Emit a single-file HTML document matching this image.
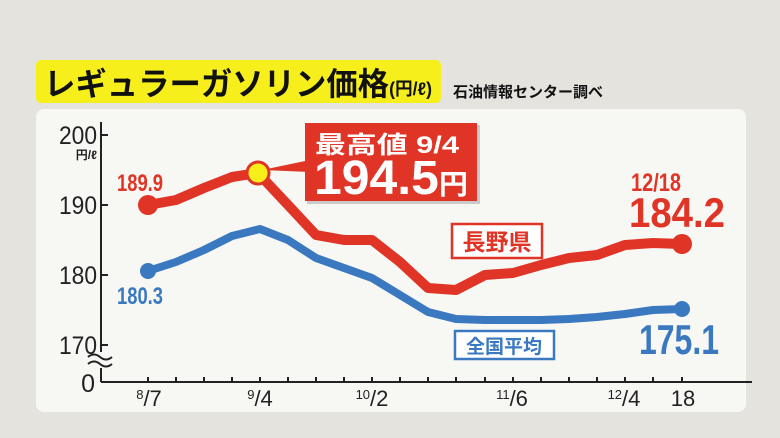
<!DOCTYPE html>
<html><head><meta charset="utf-8"><style>
body{margin:0;width:780px;height:438px;background:#e4e3de;overflow:hidden;font-family:"Liberation Sans","Noto Sans CJK JP",sans-serif}
</style></head><body>
<svg width="780" height="438" viewBox="0 0 780 438" xmlns="http://www.w3.org/2000/svg" style="position:absolute;left:0;top:0">
<rect x="36" y="60" width="405" height="43" rx="5" fill="#f6ef1c"/>
<text x="44" y="95" font-size="32" font-weight="bold" fill="#111" font-family="Liberation Sans,Noto Sans CJK JP,sans-serif" textLength="388" lengthAdjust="spacingAndGlyphs">レギュラーガソリン価格<tspan font-size="18">(円/ℓ)</tspan></text>
<text x="453" y="97" font-size="15" font-weight="bold" fill="#111" font-family="Liberation Sans,Noto Sans CJK JP,sans-serif">石油情報センター調べ</text>
<rect x="36" y="109" width="710" height="303" rx="8" fill="#f7f7f4"/>
<g font-family="Liberation Sans,Noto Sans CJK JP,sans-serif" fill="#222">
<line x1="101" y1="122" x2="101" y2="382" stroke="#222" stroke-width="2"/>
<line x1="101" y1="382" x2="752" y2="382" stroke="#222" stroke-width="2"/>
<g stroke="#222" stroke-width="2">
<line x1="101" y1="135" x2="108" y2="135"/><line x1="101" y1="205" x2="108" y2="205"/><line x1="101" y1="275" x2="108" y2="275"/><line x1="101" y1="345" x2="108" y2="345"/>
</g>
<rect x="88" y="352" width="24" height="16" fill="#f7f7f4"/>
<path d="M88 357 q6 -5 12 0 t12 0 M88 364 q6 -5 12 0 t12 0" stroke="#222" stroke-width="2" fill="none"/>
<g font-size="25" text-anchor="end"><text x="97" y="144" textLength="38" lengthAdjust="spacingAndGlyphs">200</text><text x="97" y="214" textLength="38" lengthAdjust="spacingAndGlyphs">190</text><text x="97" y="284" textLength="38" lengthAdjust="spacingAndGlyphs">180</text><text x="97" y="354" textLength="38" lengthAdjust="spacingAndGlyphs">170</text><text x="95" y="392">0</text></g>
<text x="97" y="159" font-size="12" font-weight="bold" text-anchor="end">円/ℓ</text>
<g stroke="#222" stroke-width="2">
<line x1="148" y1="377" x2="148" y2="382"/><line x1="176" y1="377" x2="176" y2="382"/><line x1="204" y1="377" x2="204" y2="382"/><line x1="232" y1="377" x2="232" y2="382"/><line x1="260" y1="377" x2="260" y2="382"/><line x1="288" y1="377" x2="288" y2="382"/><line x1="316" y1="377" x2="316" y2="382"/><line x1="344" y1="377" x2="344" y2="382"/><line x1="372" y1="377" x2="372" y2="382"/><line x1="400" y1="377" x2="400" y2="382"/><line x1="428" y1="377" x2="428" y2="382"/><line x1="456" y1="377" x2="456" y2="382"/><line x1="485" y1="377" x2="485" y2="382"/><line x1="513" y1="377" x2="513" y2="382"/><line x1="541" y1="377" x2="541" y2="382"/><line x1="569" y1="377" x2="569" y2="382"/><line x1="597" y1="377" x2="597" y2="382"/><line x1="625" y1="377" x2="625" y2="382"/><line x1="653" y1="377" x2="653" y2="382"/><line x1="682" y1="377" x2="682" y2="382"/>
</g>
<g font-size="22" text-anchor="middle">
<text x="149" y="406"><tspan font-size="13" dy="-7">8</tspan><tspan dy="7">/7</tspan></text>
<text x="260" y="406"><tspan font-size="13" dy="-7">9</tspan><tspan dy="7">/4</tspan></text>
<text x="372" y="406"><tspan font-size="13" dy="-7">10</tspan><tspan dy="7">/2</tspan></text>
<text x="512" y="406"><tspan font-size="13" dy="-7">11</tspan><tspan dy="7">/6</tspan></text>
<text x="624" y="406"><tspan font-size="13" dy="-7">12</tspan><tspan dy="7">/4</tspan></text>
<text x="683" y="406">18</text>
</g>
</g>
<polyline points="148,271 176,262 204,250 232,236 260,229 288,240 316,258 344,268 372,278 400,295 428,312 456,319 485,320 513,320 541,320 569,319 597,317 625,314 653,310 682,309" fill="none" stroke="#3a78c0" stroke-width="8" stroke-linejoin="round"/>
<circle cx="148" cy="271" r="8" fill="#3a78c0"/><circle cx="682" cy="309" r="8" fill="#3a78c0"/>
<polyline points="148,205 176,200 204,188 232,177 258,173 288,205 316,235 344,240 372,240 400,262 428,288 456,290 485,275 513,273 541,265 569,258 597,255 625,245 653,243 682,244" fill="none" stroke="#e03427" stroke-width="10" stroke-linejoin="round"/>
<circle cx="148" cy="205" r="10" fill="#e03427"/><circle cx="682" cy="244" r="10" fill="#e03427"/>
<polygon points="262,170 310,160 310,172" fill="#e03427"/>
<circle cx="258" cy="173" r="11" fill="#f8ee1a" stroke="#e03427" stroke-width="3"/>
<rect x="307" y="125" width="173" height="79" fill="#888" opacity="0.4"/>
<rect x="305" y="123" width="172" height="78" fill="#e03427"/>
<g font-family="Liberation Sans,Noto Sans CJK JP,sans-serif" font-weight="bold">
<text x="315" y="153" font-size="24" fill="#fff" textLength="144" lengthAdjust="spacingAndGlyphs">最高値 9/4</text>
<text x="314" y="194" font-size="48" fill="#fff" textLength="154" lengthAdjust="spacingAndGlyphs">194.5<tspan font-size="28">円</tspan></text>
<rect x="452" y="224" width="90" height="34" fill="#fff" stroke="#e03427" stroke-width="2.5"/>
<text x="497" y="250" font-size="23" fill="#e03427" text-anchor="middle">長野県</text>
<rect x="455" y="331" width="99" height="28" fill="#fff" stroke="#3a78c0" stroke-width="2.5"/>
<text x="504" y="353" font-size="19" fill="#3a78c0" text-anchor="middle">全国平均</text>
<text x="117" y="191" font-size="24" fill="#e03427" textLength="46" lengthAdjust="spacingAndGlyphs">189.9</text>
<text x="117" y="304" font-size="24" fill="#3a78c0" textLength="46" lengthAdjust="spacingAndGlyphs">180.3</text>
<text x="631" y="191" font-size="25" fill="#e03427" textLength="50" lengthAdjust="spacingAndGlyphs">12/18</text>
<text x="629" y="227" font-size="42" fill="#e03427" textLength="96" lengthAdjust="spacingAndGlyphs">184.2</text>
<text x="639" y="354" font-size="42" fill="#3a78c0" textLength="80" lengthAdjust="spacingAndGlyphs">175.1</text>
</g>
</svg>
</body></html>
